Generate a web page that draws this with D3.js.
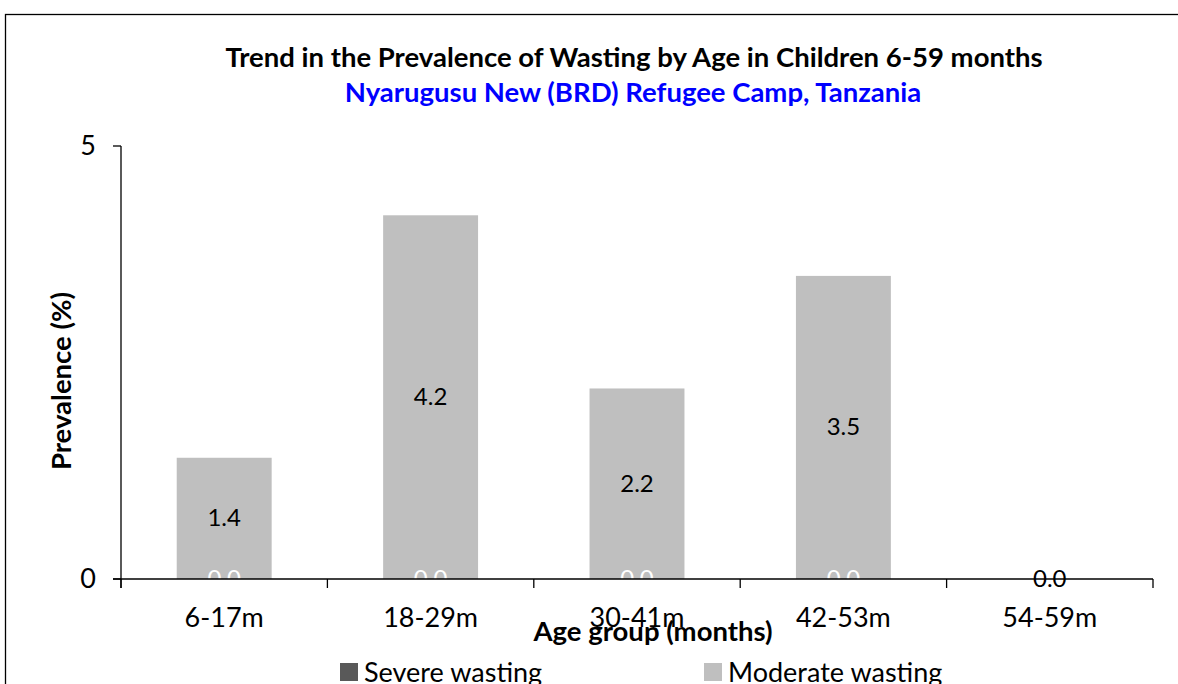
<!DOCTYPE html>
<html><head><meta charset="utf-8">
<script src="https://cdn.jsdelivr.net/npm/d3@7"></script>
<style>body{margin:0;background:#fff}svg{display:block}text{font-family:Lato,"Open Sans",sans-serif}</style>
</head><body>
<svg id="c" width="1178" height="684"></svg>
<script>
const categories = ["6-17m","18-29m","30-41m","42-53m","54-59m"];
const severe = [0.0,0.0,0.0,0.0,0.0];
const moderate = [1.4,4.2,2.2,3.5,0.0];
const yTicks = [0,5];
const seriesNames = ["Severe wasting","Moderate wasting"];
const colors = ["#595959","#bfbfbf"];

const svg = d3.select("#c");
const W=1178,H=684;
const m={left:121,right:W-1153,top:146,bottom:H-579};
svg.append("rect").attr("x",5.5).attr("y",14.5).attr("width",1200).attr("height",700)
  .attr("fill","#fff").attr("stroke","#000").attr("stroke-width",1.3);

const x=d3.scaleBand().domain(categories).range([m.left,W-m.right]).paddingInner(0.54).paddingOuter(0.27);
const y=d3.scaleLinear().domain([0,5]).range([H-m.bottom,m.top]);

const data=categories.map((c,i)=>({cat:c,severe:severe[i],moderate:moderate[i]}));
const stack=d3.stack().keys(["severe","moderate"])(data);

const g=svg.append("g");
stack.forEach((s,si)=>{
  g.selectAll(null).data(s).join("rect")
    .attr("x",d=>x(d.data.cat)).attr("width",x.bandwidth())
    .attr("y",d=>y(d[1])).attr("height",d=>y(d[0])-y(d[1]))
    .attr("fill",colors[si]);
});

// axes
const xAxisG=svg.append("g").attr("transform",`translate(0,${y(0)})`);
xAxisG.append("line").attr("x1",m.left-8).attr("x2",W-m.right).attr("y1",0).attr("y2",0).attr("stroke","#000").attr("stroke-width",1.3);
const bounds=d3.range(categories.length+1).map(i=>m.left+i*(W-m.right-m.left)/categories.length);
xAxisG.selectAll(null).data(bounds).join("line").attr("x1",d=>d).attr("x2",d=>d).attr("y1",0).attr("y2",9).attr("stroke","#000").attr("stroke-width",1.3);
xAxisG.selectAll(null).data(categories).join("text")
  .attr("x",d=>x(d)+x.bandwidth()/2).attr("y",48).attr("text-anchor","middle")
  .attr("font-size",27).attr("fill","#000").text(d=>d);

const yAxisG=svg.append("g");
yAxisG.append("line").attr("x1",m.left).attr("x2",m.left).attr("y1",y(5)).attr("y2",y(0)+9).attr("stroke","#000").attr("stroke-width",1.3);
yAxisG.selectAll(null).data(yTicks).join("line").attr("x1",m.left-8).attr("x2",m.left).attr("y1",d=>y(d)).attr("y2",d=>y(d)).attr("stroke","#000").attr("stroke-width",1.3);
yAxisG.selectAll(null).data(yTicks).join("text").attr("x",96).attr("y",d=>y(d)+9).attr("text-anchor","end")
  .attr("font-size",27).text(d=>d);

// data labels
stack.forEach((s,si)=>{
  g.selectAll(null).data(s).join("text")
    .attr("x",d=>x(d.data.cat)+x.bandwidth()/2)
    .attr("y",d=>(y(d[0])+y(d[1]))/2+8)
    .attr("text-anchor","middle").attr("font-size",24)
    .attr("fill",d=>si===0?"#fff":"#000")
    .text(d=>(d[1]-d[0]).toFixed(1));
});

// titles
svg.append("text").attr("x",634).attr("y",67).attr("text-anchor","middle").attr("font-size",27.5).attr("font-weight","bold")
  .text("Trend in the Prevalence of Wasting by Age in Children 6-59 months");
svg.append("text").attr("x",633).attr("y",102).attr("text-anchor","middle").attr("font-size",27.5).attr("font-weight","bold").attr("fill","#0000ff")
  .text("Nyarugusu New (BRD) Refugee Camp, Tanzania");
svg.append("text").attr("x",653).attr("y",641).attr("text-anchor","middle").attr("font-size",27.5).attr("font-weight","bold")
  .text("Age group (months)");
svg.append("text").attr("transform","translate(71,381) rotate(-90)").attr("text-anchor","middle").attr("font-size",27.5).attr("font-weight","bold")
  .text("Prevalence (%)");

// legend
const legX=[340,704];
seriesNames.forEach((n,i)=>{
  svg.append("rect").attr("x",legX[i]).attr("y",663).attr("width",18).attr("height",18).attr("fill",colors[i]);
  svg.append("text").attr("x",legX[i]+24).attr("y",682).attr("font-size",27).text(n);
});
</script>
</body></html>
